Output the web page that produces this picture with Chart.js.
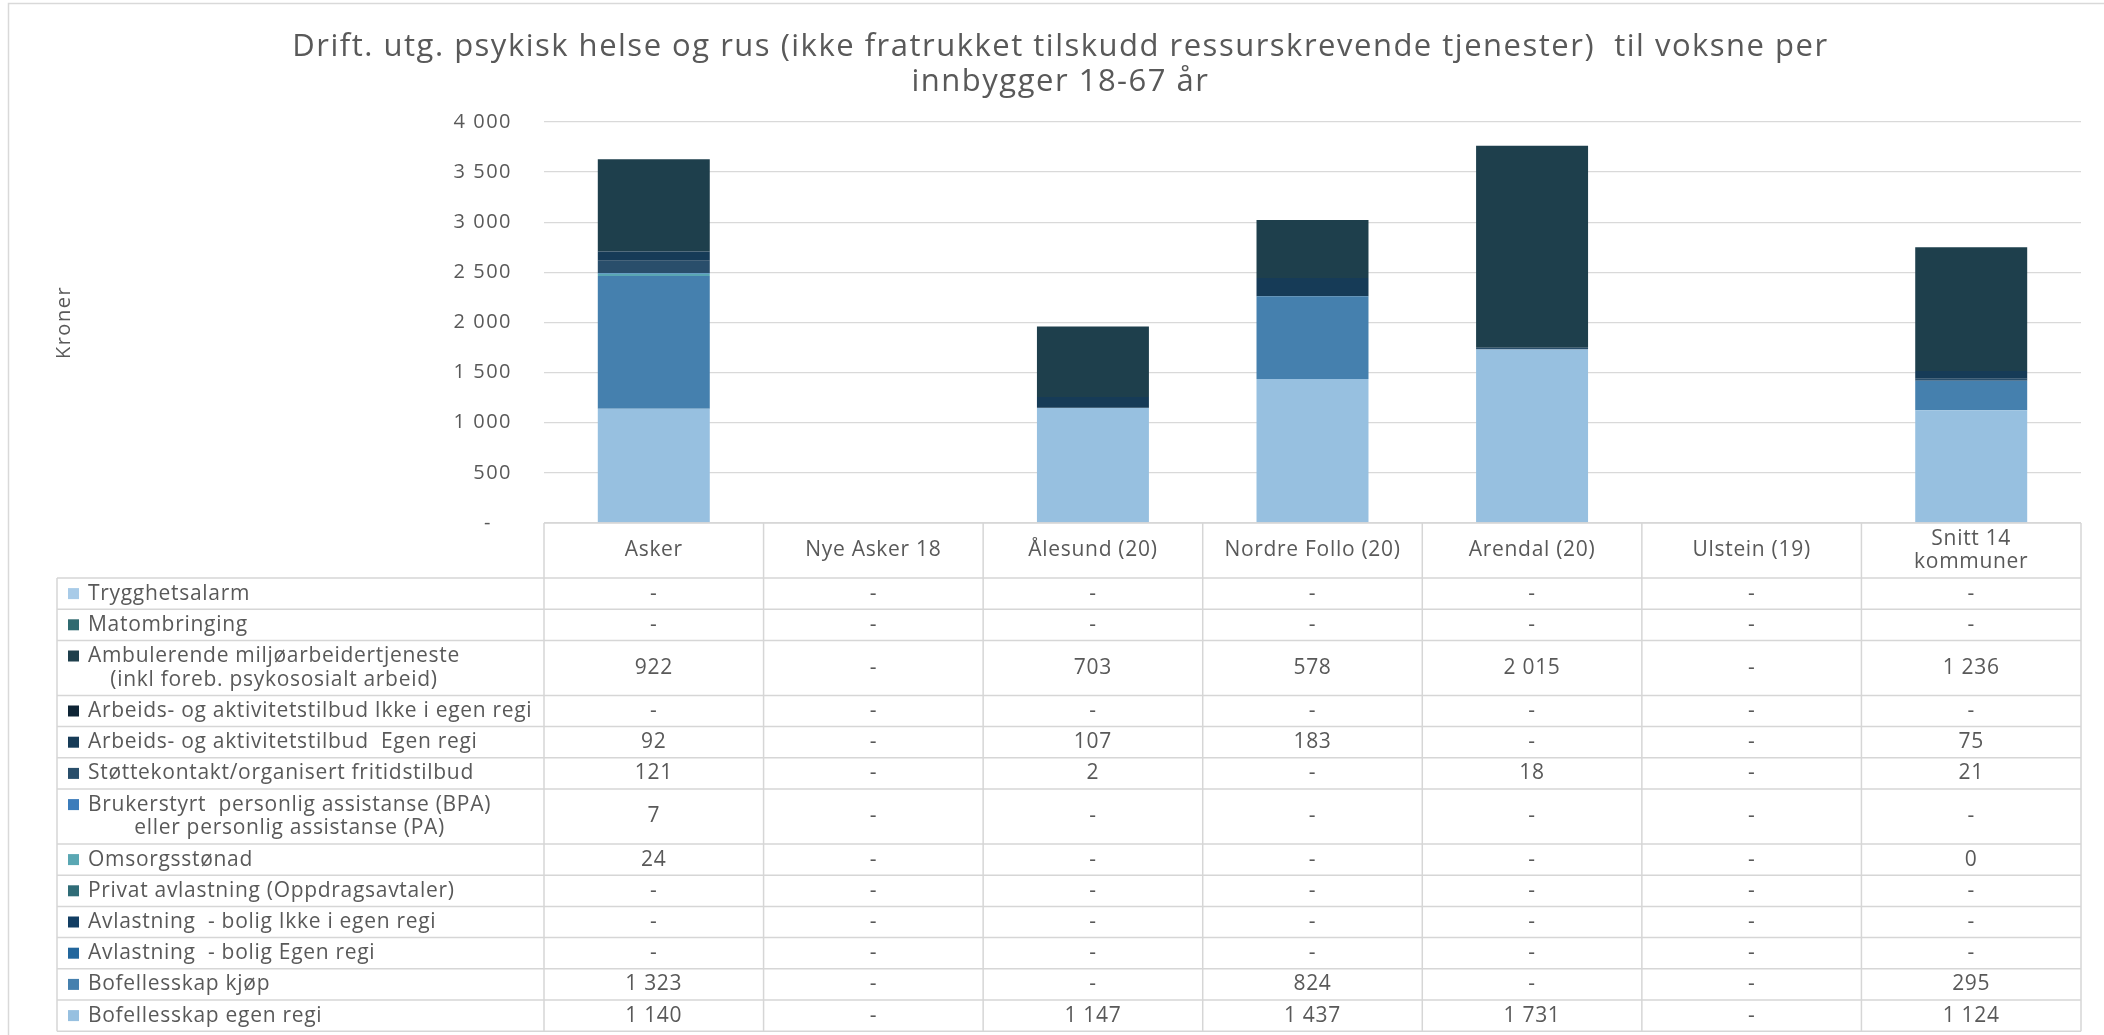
<!DOCTYPE html>
<html lang="no">
<head>
<meta charset="utf-8">
<title>Drift. utg. psykisk helse og rus</title>
<script src="https://cdn.jsdelivr.net/npm/chart.js@4.4.1/dist/chart.umd.min.js"></script>
<style>
    html, body { margin: 0; padding: 0; background: #fff; }
    #wrap { width: 2104px; height: 1035px; position: relative; }
</style>
</head>
<body>
<div id="wrap"><canvas id="driftChart"></canvas></div>
<script>
// -- DATA --
const categories = ['Asker', 'Nye Asker 18', 'Ålesund (20)', 'Nordre Follo (20)', 'Arendal (20)', 'Ulstein (19)', ['Snitt 14', 'kommuner']];

// table order, top row first (null = "-")
const trygghetsalarm        = [null, null, null, null, null, null, null];
const matombringing         = [null, null, null, null, null, null, null];
const ambulerende           = [922, null, 703, 578, 2015, null, 1236];
const arbeidIkkeEgenRegi    = [null, null, null, null, null, null, null];
const arbeidEgenRegi        = [92, null, 107, 183, null, null, 75];
const stottekontakt         = [121, null, 2, null, 18, null, 21];
const brukerstyrt           = [7, null, null, null, null, null, null];
const omsorgsstonad         = [24, null, null, null, null, null, 0];
const privatAvlastning      = [null, null, null, null, null, null, null];
const avlastningIkkeEgen    = [null, null, null, null, null, null, null];
const avlastningEgen        = [null, null, null, null, null, null, null];
const bofellesskapKjop      = [1323, null, null, 824, null, null, 295];
const bofellesskapEgenRegi  = [1140, null, 1147, 1437, 1731, null, 1124];

const seriesNames = [
    'Trygghetsalarm',
    'Matombringing',
    ['Ambulerende miljøarbeidertjeneste', '(inkl foreb. psykososialt arbeid)'],
    'Arbeids- og aktivitetstilbud Ikke i egen regi',
    'Arbeids- og aktivitetstilbud  Egen regi',
    'Støttekontakt/organisert fritidstilbud',
    ['Brukerstyrt  personlig assistanse (BPA)', 'eller personlig assistanse (PA)'],
    'Omsorgsstønad',
    'Privat avlastning (Oppdragsavtaler)',
    'Avlastning  - bolig Ikke i egen regi',
    'Avlastning  - bolig Egen regi',
    'Bofellesskap kjøp',
    'Bofellesskap egen regi'
];
const seriesValues = [
    trygghetsalarm, matombringing, ambulerende, arbeidIkkeEgenRegi, arbeidEgenRegi,
    stottekontakt, brukerstyrt, omsorgsstonad, privatAvlastning, avlastningIkkeEgen,
    avlastningEgen, bofellesskapKjop, bofellesskapEgenRegi
];
const seriesColors = [
    '#a8cbe8', '#2f6a70', '#1e3f4c', '#0e2435', '#163b57', '#294e6b', '#3b7cbb',
    '#5aa7b3', '#2f6c77', '#123e63', '#22669c', '#4580ae', '#97c0e0'
];

const yTicks = [0, 500, 1000, 1500, 2000, 2500, 3000, 3500, 4000];

const TEXT = '#595959';
const LINE = '#d6d6d6';
const FONT = "'Open Sans', sans-serif";

function fmt(v) {
    if (v === null || v === undefined) return '-';
    return String(v).replace(/\B(?=(\d{3})+(?!\d))/g, ' ');
}

// datasets stack bottom-up, so reverse the table order
const datasets = seriesNames.map((name, i) => ({
    label: Array.isArray(name) ? name.join(' ') : name,
    data: seriesValues[i],
    backgroundColor: seriesColors[i],
    borderWidth: 0
})).reverse();

// -- FRAME + wider text spacing (the original Calibri text is stretched) --
const framePlugin = {
    id: 'frame',
    beforeDraw(chart) {
        const ctx = chart.ctx;
        ctx.save();
        ctx.fillStyle = '#fff';
        ctx.fillRect(0, 0, chart.width, chart.height);
        ctx.strokeStyle = '#d9d9d9';
        ctx.lineWidth = 1.5;
        ctx.strokeRect(8.5, 3.5, chart.width + 10, chart.height + 10);
        ctx.restore();
        ctx.letterSpacing = '1.5px';
    },
    afterDraw(chart) {
        chart.ctx.letterSpacing = '0px';
    }
};

// -- DATA TABLE under the plot --
const LEGEND_LEFT = 57;
const HEADER_H = 55;
const LINE_H = 23.8;
const ROW_PAD = 7.4;

const tablePlugin = {
    id: 'dataTable',
    afterDraw(chart) {
        const { ctx, chartArea } = chart;
        const n = categories.length;
        const colW = (chartArea.right - chartArea.left) / n;
        const top = chartArea.bottom;
        const rowsTop = top + HEADER_H;

        const rows = [];
        let y = rowsTop;
        seriesNames.forEach((name, i) => {
            const lines = Array.isArray(name) ? name : [name];
            const h = ROW_PAD + LINE_H * lines.length;
            rows.push({ lines, y, h, i });
            y += h;
        });
        const bottom = y;

        ctx.save();
        ctx.letterSpacing = '0.7px';
        ctx.strokeStyle = LINE;
        ctx.lineWidth = 1.5;

        // horizontal lines
        ctx.beginPath();
        ctx.moveTo(chartArea.left, top);
        ctx.lineTo(chartArea.right, top);
        rows.forEach(r => {
            ctx.moveTo(LEGEND_LEFT, r.y);
            ctx.lineTo(chartArea.right, r.y);
        });
        ctx.moveTo(LEGEND_LEFT, bottom);
        ctx.lineTo(chartArea.right, bottom);

        // vertical lines
        ctx.moveTo(LEGEND_LEFT, rowsTop);
        ctx.lineTo(LEGEND_LEFT, bottom);
        for (let c = 0; c <= n; c++) {
            const x = chartArea.left + c * colW;
            ctx.moveTo(x, top);
            ctx.lineTo(x, bottom);
        }
        ctx.stroke();

        ctx.fillStyle = TEXT;
        ctx.font = '21px ' + FONT;
        ctx.textBaseline = 'middle';
        ctx.textAlign = 'center';

        // header
        categories.forEach((cat, c) => {
            const lines = Array.isArray(cat) ? cat : [cat];
            const cx = chart.scales.x.getPixelForValue(c);
            const cy = top + HEADER_H / 2 - (lines.length - 1) * LINE_H / 2;
            lines.forEach((t, k) => ctx.fillText(t, cx, cy + k * LINE_H));
        });

        // rows
        rows.forEach(r => {
            const firstY = r.y + ROW_PAD / 2 + LINE_H / 2;
            const midY = r.y + r.h / 2;

            ctx.fillStyle = seriesColors[r.i];
            ctx.fillRect(68, firstY - 5.5, 11, 11);

            ctx.fillStyle = TEXT;
            ctx.textAlign = 'left';
            const widths = r.lines.map(t => ctx.measureText(t).width);
            const maxW = Math.max(...widths);
            r.lines.forEach((t, k) => {
                ctx.fillText(t, 88 + (maxW - widths[k]) / 2, firstY + k * LINE_H);
            });

            ctx.textAlign = 'center';
            seriesValues[r.i].forEach((v, c) => {
                ctx.fillText(fmt(v), chart.scales.x.getPixelForValue(c), midY);
            });
        });
        ctx.restore();
    }
};

Chart.defaults.font.family = FONT;
Chart.defaults.color = TEXT;

new Chart(document.getElementById('driftChart').getContext('2d'), {
    type: 'bar',
    data: {
        labels: categories,
        datasets: datasets
    },
    options: {
        responsive: true,
        maintainAspectRatio: false,
        animation: false,
        layout: {
            padding: { left: 40, right: 23, top: 0, bottom: 512 }
        },
        datasets: {
            bar: { barPercentage: 0.51, categoryPercentage: 1 }
        },
        plugins: {
            legend: { display: false },
            tooltip: { enabled: false },
            title: {
                display: true,
                text: ['Drift. utg. psykisk helse og rus (ikke fratrukket tilskudd ressurskrevende tjenester)  til voksne per', 'innbygger 18-67 år'],
                color: TEXT,
                font: { size: 31, weight: 'normal', lineHeight: 1.129 },
                padding: { top: 29.5, bottom: 22.5 }
            }
        },
        scales: {
            x: {
                display: false,
                stacked: true
            },
            y: {
                stacked: true,
                min: 0,
                max: 4000,
                afterBuildTicks: (scale) => {
                    scale.ticks = yTicks.map(v => ({ value: v }));
                },
                afterFit: (scale) => {
                    scale.width = 504;
                },
                ticks: {
                    padding: 32,
                    font: { size: 20 },
                    color: TEXT,
                    callback: (v) => v === 0 ? '-   ' : fmt(v)
                },
                grid: { color: '#d9d9d9', lineWidth: 1.3, drawTicks: false },
                border: { display: false },
                title: {
                    display: true,
                    text: 'Kroner',
                    color: TEXT,
                    font: { size: 20 },
                    padding: { top: 12, bottom: 0 }
                }
            }
        }
    },
    plugins: [framePlugin, tablePlugin]
});
</script>
</body>
</html>
